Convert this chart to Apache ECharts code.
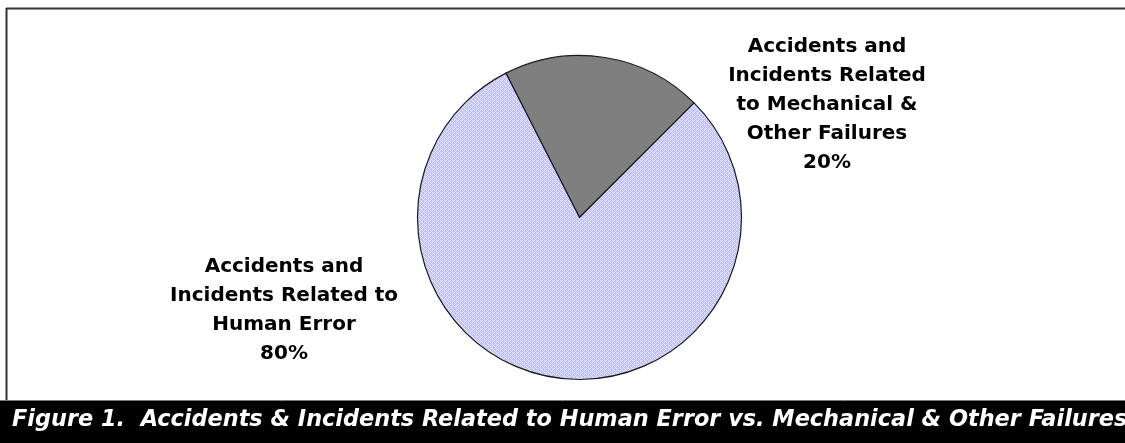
<!DOCTYPE html>
<html>
<head>
<meta charset="utf-8">
<script src="https://cdn.jsdelivr.net/npm/echarts@6/dist/echarts.min.js"></script>
<style>
html,body{margin:0;padding:0;background:#fff;}
#chart{width:1125px;height:443px;}
</style>
</head>
<body>
<div id="chart"></div>
<script>
const categories = [
  "Accidents and\nIncidents Related\nto Mechanical &\nOther Failures",
  "Accidents and\nIncidents Related to\nHuman Error"
];
const values = [20, 80];
const percentLabels = ["20%", "80%"];
const figureTitle = "Figure 1.  Accidents & Incidents Related to Human Error vs. Mechanical & Other Failures";

// hatch pattern for the large slice
const pat = document.createElement('canvas');
pat.width = 4; pat.height = 4;
const pc = pat.getContext('2d');
pc.fillStyle = '#c0c0fc';
pc.fillRect(0, 0, 4, 4);
pc.fillStyle = '#eaeaff';
pc.fillRect(0, 0, 1, 1);
pc.fillRect(2, 2, 1, 1);
pc.fillRect(1, 1, 1, 1);
pc.fillRect(3, 3, 1, 1);
pc.fillStyle = '#d8d8ff';
pc.fillRect(2, 0, 1, 1);
pc.fillRect(0, 2, 1, 1);

const fills = ['#7f7f7f', {image: pat, repeat: 'repeat'}];
const labelCenters = [[827, 105], [284, 310]];

const chart = echarts.init(document.getElementById('chart'), null, {renderer: 'canvas'});
chart.setOption({
  animation: false,
  backgroundColor: '#ffffff',
  title: {
    text: figureTitle,
    left: 12,
    top: 409,
    padding: 0,
    textStyle: {
      color: '#ffffff',
      fontFamily: 'DejaVu Sans',
      fontSize: 22.4,
      fontWeight: 'bold',
      fontStyle: 'italic'
    }
  },
  graphic: [
    {type: 'rect', z: -1, shape: {x: 0, y: 401, width: 1125, height: 42}, style: {fill: '#000000'}},
    {type: 'line', shape: {x1: 6, y1: 8.5, x2: 1125, y2: 8.5}, style: {stroke: '#333333', lineWidth: 2}},
    {type: 'line', shape: {x1: 6.5, y1: 8, x2: 6.5, y2: 401}, style: {stroke: '#333333', lineWidth: 2}},
    {type: 'line', shape: {x1: 0, y1: 400.5, x2: 1125, y2: 400.5}, style: {stroke: '#777777', lineWidth: 1}}
  ],
  series: [{
    type: 'pie',
    center: [579.5, 217.5],
    radius: 162,
    startAngle: 117,
    clockwise: true,
    avoidLabelOverlap: false,
    data: categories.map((c, i) => ({
      name: c,
      value: values[i],
      itemStyle: {color: fills[i]}
    })),
    itemStyle: {borderColor: '#1a1a1a', borderWidth: 1.2},
    label: {
      show: true,
      position: 'outside',
      formatter: p => p.name + '\n' + percentLabels[p.dataIndex],
      color: '#000000',
      fontFamily: 'DejaVu Sans',
      fontWeight: 'bold',
      fontSize: 20,
      lineHeight: 29,
      align: 'center'
    },
    labelLine: {show: false},
    labelLayout: function (params) {
      const c = labelCenters[params.dataIndex];
      return {x: c[0], y: c[1], align: 'center', verticalAlign: 'middle'};
    },
    emphasis: {disabled: true}
  }]
});
</script>
</body>
</html>
